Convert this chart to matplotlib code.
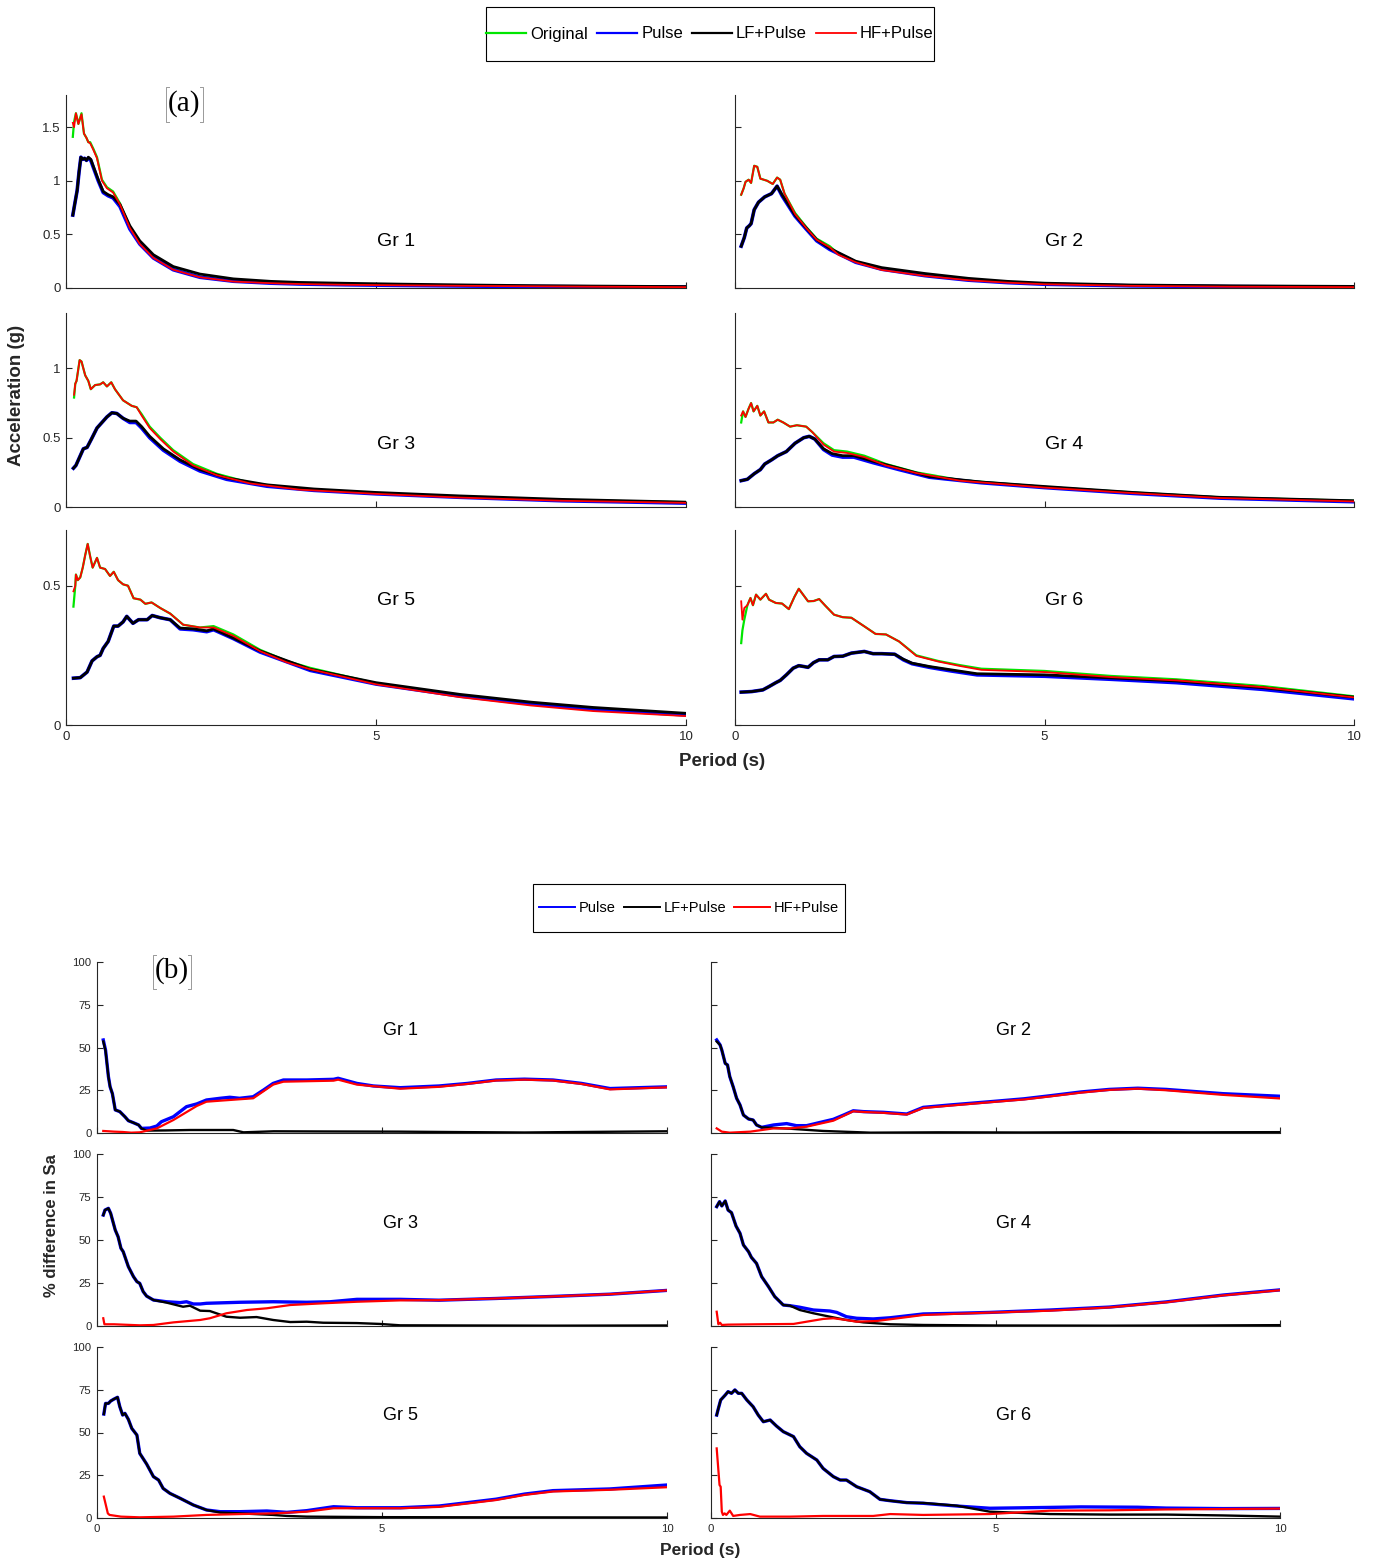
import matplotlib
matplotlib.use("Agg")
import matplotlib.pyplot as plt
from matplotlib.lines import Line2D
from matplotlib.patches import Rectangle

plt.rcParams["font.family"] = ["Liberation Sans", "DejaVu Sans"]

# ---------------- (a) spectral acceleration, period vs Sa (g) ----------------
# Gr 1
tA1 = [0.11, 0.13, 0.16, 0.2, 0.25, 0.29, 0.33, 0.36, 0.39, 0.44, 0.5, 0.58, 0.66, 0.76, 0.87, 1.03, 1.19, 1.41, 1.73, 2.16, 2.7, 3.3, 3.77, 4.5, 5.4, 6.5, 7.5, 8.5, 10.0]
orig1 = [1.41, 1.55, 1.63, 1.53, 1.63, 1.44, 1.40, 1.36, 1.36, 1.30, 1.22, 1.01, 0.94, 0.90, 0.79, 0.57, 0.42, 0.29, 0.18, 0.105, 0.065, 0.048, 0.04, 0.034, 0.028, 0.022, 0.018, 0.015, 0.012]
hf1 = [1.54, 1.50, 1.63, 1.53, 1.62, 1.44, 1.40, 1.36, 1.35, 1.29, 1.21, 1.00, 0.93, 0.89, 0.78, 0.56, 0.41, 0.28, 0.17, 0.10, 0.06, 0.045, 0.037, 0.03, 0.025, 0.02, 0.016, 0.012, 0.008]
tB1 = [0.11, 0.14, 0.18, 0.21, 0.24, 0.27, 0.30, 0.33, 0.36, 0.40, 0.45, 0.52, 0.60, 0.68, 0.76, 0.87, 1.03, 1.19, 1.41, 1.73, 2.16, 2.7, 3.3, 3.77, 4.5, 5.4, 6.5, 7.5, 8.5, 10.0]
lf1 = [0.68, 0.78, 0.91, 1.08, 1.22, 1.20, 1.21, 1.19, 1.22, 1.20, 1.12, 1.01, 0.90, 0.87, 0.85, 0.78, 0.58, 0.44, 0.31, 0.20, 0.13, 0.085, 0.062, 0.052, 0.044, 0.036, 0.028, 0.022, 0.018, 0.013]
pulse1 = [0.68, 0.78, 0.91, 1.08, 1.22, 1.20, 1.21, 1.19, 1.21, 1.19, 1.11, 1.00, 0.89, 0.86, 0.84, 0.76, 0.55, 0.41, 0.28, 0.17, 0.10, 0.063, 0.045, 0.037, 0.03, 0.024, 0.018, 0.014, 0.011, 0.008]

# Gr 2
tA2 = [0.10, 0.14, 0.17, 0.22, 0.26, 0.31, 0.36, 0.41, 0.52, 0.61, 0.68, 0.73, 0.80, 0.97, 1.15, 1.32, 1.53, 1.67, 1.95, 2.37, 3.07, 3.77, 4.4, 5.0, 6.4, 8.0, 10.0]
orig2 = [0.87, 0.93, 0.99, 1.01, 0.98, 1.14, 1.13, 1.02, 1.00, 0.97, 1.03, 1.01, 0.88, 0.70, 0.57, 0.46, 0.39, 0.32, 0.245, 0.174, 0.12, 0.078, 0.055, 0.04, 0.025, 0.018, 0.014]
hf2 = [0.87, 0.93, 0.99, 1.01, 0.98, 1.14, 1.13, 1.02, 1.00, 0.97, 1.03, 1.01, 0.88, 0.69, 0.56, 0.45, 0.38, 0.31, 0.24, 0.168, 0.113, 0.072, 0.05, 0.035, 0.02, 0.012, 0.008]
tB2 = [0.10, 0.15, 0.19, 0.23, 0.26, 0.31, 0.38, 0.48, 0.59, 0.68, 0.76, 0.97, 1.15, 1.32, 1.53, 1.95, 2.37, 3.07, 3.77, 4.4, 5.0, 6.4, 8.0, 10.0]
lf2 = [0.39, 0.47, 0.56, 0.58, 0.60, 0.73, 0.80, 0.85, 0.88, 0.95, 0.87, 0.68, 0.56, 0.45, 0.37, 0.25, 0.19, 0.135, 0.09, 0.062, 0.045, 0.028, 0.02, 0.015]
pulse2 = [0.39, 0.47, 0.56, 0.58, 0.60, 0.73, 0.80, 0.85, 0.88, 0.95, 0.86, 0.67, 0.55, 0.44, 0.36, 0.24, 0.175, 0.115, 0.073, 0.05, 0.035, 0.02, 0.013, 0.009]

# Gr 3
tA3 = [0.13, 0.15, 0.17, 0.22, 0.25, 0.31, 0.36, 0.40, 0.47, 0.55, 0.60, 0.66, 0.73, 0.79, 0.92, 1.06, 1.14, 1.22, 1.35, 1.52, 1.73, 2.05, 2.43, 2.97, 3.77, 5.0, 6.35, 8.0, 10.0]
orig3 = [0.79, 0.89, 0.91, 1.06, 1.05, 0.95, 0.91, 0.85, 0.88, 0.885, 0.90, 0.87, 0.90, 0.85, 0.77, 0.73, 0.72, 0.67, 0.58, 0.50, 0.41, 0.31, 0.24, 0.175, 0.13, 0.10, 0.072, 0.05, 0.035]
hf3 = [0.81, 0.89, 0.91, 1.06, 1.05, 0.95, 0.91, 0.85, 0.88, 0.885, 0.90, 0.87, 0.90, 0.85, 0.77, 0.73, 0.72, 0.66, 0.57, 0.49, 0.40, 0.30, 0.23, 0.17, 0.125, 0.095, 0.068, 0.045, 0.03]
tB3 = [0.12, 0.16, 0.20, 0.24, 0.28, 0.34, 0.41, 0.50, 0.58, 0.66, 0.74, 0.82, 0.92, 1.03, 1.13, 1.22, 1.35, 1.57, 1.84, 2.16, 2.59, 3.24, 4.0, 5.0, 6.35, 8.0, 10.0]
lf3 = [0.28, 0.30, 0.34, 0.38, 0.42, 0.43, 0.49, 0.57, 0.61, 0.65, 0.68, 0.675, 0.64, 0.62, 0.62, 0.58, 0.51, 0.42, 0.34, 0.27, 0.21, 0.16, 0.13, 0.105, 0.08, 0.055, 0.035]
pulse3 = [0.28, 0.30, 0.34, 0.38, 0.42, 0.43, 0.49, 0.57, 0.61, 0.65, 0.68, 0.675, 0.64, 0.61, 0.61, 0.57, 0.50, 0.41, 0.33, 0.26, 0.20, 0.15, 0.12, 0.095, 0.07, 0.045, 0.028]

# Gr 4
tA4 = [0.10, 0.13, 0.17, 0.22, 0.26, 0.30, 0.36, 0.41, 0.47, 0.54, 0.62, 0.69, 0.78, 0.89, 1.0, 1.15, 1.25, 1.43, 1.6, 1.81, 2.09, 2.44, 2.93, 3.63, 5.0, 6.43, 7.83, 10.0]
orig4 = [0.61, 0.69, 0.65, 0.71, 0.75, 0.69, 0.73, 0.66, 0.69, 0.61, 0.61, 0.63, 0.61, 0.58, 0.59, 0.58, 0.54, 0.46, 0.41, 0.40, 0.37, 0.31, 0.25, 0.195, 0.145, 0.105, 0.07, 0.045]
hf4 = [0.66, 0.69, 0.65, 0.71, 0.75, 0.69, 0.73, 0.66, 0.69, 0.61, 0.61, 0.63, 0.61, 0.58, 0.59, 0.58, 0.54, 0.45, 0.40, 0.39, 0.36, 0.30, 0.245, 0.19, 0.14, 0.10, 0.065, 0.04]
tB4 = [0.10, 0.2, 0.31, 0.41, 0.48, 0.59, 0.69, 0.83, 0.97, 1.11, 1.2, 1.29, 1.43, 1.57, 1.74, 1.92, 2.23, 2.65, 3.14, 3.98, 5.0, 6.43, 7.83, 10.0]
lf4 = [0.19, 0.20, 0.24, 0.27, 0.31, 0.34, 0.37, 0.40, 0.46, 0.50, 0.51, 0.49, 0.42, 0.385, 0.37, 0.37, 0.33, 0.28, 0.22, 0.18, 0.148, 0.105, 0.07, 0.045]
pulse4 = [0.19, 0.20, 0.24, 0.27, 0.31, 0.34, 0.37, 0.40, 0.46, 0.50, 0.51, 0.49, 0.415, 0.375, 0.36, 0.36, 0.32, 0.27, 0.215, 0.175, 0.14, 0.098, 0.064, 0.038]

# Gr 5
tA5 = [0.12, 0.15, 0.16, 0.19, 0.23, 0.27, 0.31, 0.35, 0.39, 0.43, 0.5, 0.55, 0.63, 0.71, 0.77, 0.84, 0.92, 1.0, 1.09, 1.2, 1.28, 1.38, 1.52, 1.68, 1.89, 2.16, 2.38, 2.7, 3.13, 3.56, 3.94, 5.0, 6.35, 7.5, 8.5, 10.0]
orig5 = [0.425, 0.50, 0.54, 0.52, 0.53, 0.565, 0.61, 0.65, 0.605, 0.565, 0.60, 0.565, 0.56, 0.535, 0.55, 0.52, 0.505, 0.50, 0.455, 0.45, 0.435, 0.44, 0.42, 0.40, 0.36, 0.35, 0.355, 0.325, 0.27, 0.23, 0.205, 0.15, 0.105, 0.075, 0.055, 0.035]
hf5 = [0.48, 0.50, 0.54, 0.52, 0.53, 0.565, 0.61, 0.65, 0.605, 0.565, 0.60, 0.565, 0.56, 0.535, 0.55, 0.52, 0.505, 0.50, 0.455, 0.45, 0.435, 0.44, 0.42, 0.40, 0.36, 0.35, 0.35, 0.32, 0.265, 0.225, 0.20, 0.146, 0.10, 0.07, 0.05, 0.032]
tB5 = [0.12, 0.23, 0.34, 0.42, 0.5, 0.55, 0.6, 0.68, 0.77, 0.84, 0.92, 0.98, 1.08, 1.17, 1.31, 1.39, 1.52, 1.68, 1.84, 2.05, 2.27, 2.38, 2.7, 3.13, 3.94, 5.0, 6.35, 7.5, 8.5, 10.0]
lf5 = [0.168, 0.17, 0.19, 0.23, 0.245, 0.25, 0.275, 0.30, 0.355, 0.355, 0.37, 0.39, 0.365, 0.378, 0.378, 0.393, 0.385, 0.378, 0.348, 0.345, 0.338, 0.345, 0.312, 0.266, 0.20, 0.152, 0.11, 0.082, 0.063, 0.042]
pulse5 = [0.168, 0.17, 0.19, 0.23, 0.245, 0.25, 0.275, 0.30, 0.355, 0.355, 0.37, 0.39, 0.365, 0.378, 0.378, 0.393, 0.385, 0.378, 0.345, 0.342, 0.335, 0.342, 0.31, 0.262, 0.196, 0.147, 0.104, 0.076, 0.057, 0.036]

# Gr 6
tA6 = [0.10, 0.12, 0.15, 0.2, 0.25, 0.29, 0.34, 0.41, 0.5, 0.55, 0.66, 0.76, 0.87, 0.96, 1.03, 1.1, 1.18, 1.27, 1.36, 1.46, 1.6, 1.74, 1.88, 2.09, 2.27, 2.44, 2.65, 2.93, 3.28, 3.63, 3.98, 5.0, 6.08, 7.13, 8.52, 10.0]
orig6 = [0.294, 0.34, 0.378, 0.43, 0.456, 0.43, 0.468, 0.45, 0.471, 0.45, 0.438, 0.436, 0.416, 0.46, 0.489, 0.468, 0.444, 0.445, 0.452, 0.428, 0.396, 0.387, 0.385, 0.354, 0.327, 0.325, 0.30, 0.25, 0.23, 0.215, 0.202, 0.194, 0.176, 0.164, 0.14, 0.103]
hf6 = [0.444, 0.378, 0.42, 0.43, 0.456, 0.43, 0.468, 0.45, 0.471, 0.45, 0.438, 0.436, 0.416, 0.46, 0.489, 0.468, 0.444, 0.445, 0.452, 0.428, 0.396, 0.387, 0.385, 0.354, 0.327, 0.325, 0.30, 0.248, 0.228, 0.212, 0.198, 0.19, 0.172, 0.16, 0.136, 0.099]
tB6 = [0.1, 0.27, 0.45, 0.55, 0.66, 0.73, 0.83, 0.94, 1.03, 1.11, 1.18, 1.27, 1.36, 1.5, 1.6, 1.74, 1.88, 2.09, 2.23, 2.37, 2.58, 2.72, 2.86, 3.14, 3.49, 3.91, 5.0, 6.08, 7.13, 8.52, 10.0]
lf6 = [0.118, 0.12, 0.126, 0.138, 0.152, 0.16, 0.18, 0.204, 0.213, 0.21, 0.207, 0.224, 0.234, 0.234, 0.246, 0.247, 0.258, 0.264, 0.256, 0.256, 0.254, 0.236, 0.222, 0.21, 0.198, 0.184, 0.18, 0.169, 0.158, 0.134, 0.1]
pulse6 = [0.118, 0.12, 0.126, 0.138, 0.152, 0.16, 0.18, 0.204, 0.213, 0.21, 0.207, 0.224, 0.234, 0.234, 0.246, 0.247, 0.258, 0.264, 0.256, 0.256, 0.254, 0.234, 0.22, 0.207, 0.194, 0.18, 0.175, 0.164, 0.152, 0.128, 0.094]

# ---------------- (b) % difference in Sa relative to the original ----------------
# Gr 1
tP1 = [0.11, 0.15, 0.2, 0.23, 0.27, 0.32, 0.4, 0.49, 0.55, 0.64, 0.73, 0.78, 0.93, 1.05, 1.13, 1.34, 1.57, 1.75, 1.92, 2.16, 2.33, 2.5, 2.74, 2.92, 3.09, 3.27, 3.68, 4.15, 4.23, 4.56, 4.85, 5.32, 6.0, 6.5, 7.0, 7.5, 8.0, 8.5, 9.0, 10.0]
dp1 = [54.4, 48.5, 33, 27, 23, 13.5, 12.5, 9.5, 7.2, 6.0, 4.7, 2.7, 2.9, 4.1, 6.6, 9.5, 15.4, 17, 19.3, 20.3, 20.9, 20.3, 21.2, 25.1, 29, 31, 31, 31.4, 32, 29, 27.5, 26.5, 27.5, 29, 31, 31.5, 31, 29, 26, 27]
tL1 = [0.11, 0.15, 0.2, 0.23, 0.27, 0.32, 0.4, 0.49, 0.55, 0.64, 0.73, 0.78, 0.87, 1.2, 1.63, 2.27, 2.39, 2.57, 3.1, 4.0, 5.3, 6.5, 7.5, 8.5, 10.0]
dl1 = [53.5, 48, 33, 27, 23, 13.5, 12.5, 9.5, 7.2, 6.0, 4.7, 2.7, 1.4, 1.5, 1.75, 1.75, 1.75, 0.4, 1.0, 0.9, 0.8, 0.5, 0.3, 0.6, 1.0]
tH1 = [0.11, 0.3, 0.45, 0.6, 0.75, 1.05, 1.34, 1.75, 1.92, 2.16, 2.74, 3.09, 3.27, 4.15, 4.23, 4.56, 5.32, 6.0, 6.5, 7.0, 7.5, 8.0, 8.5, 9.0, 10.0]
dh1 = [1.2, 0.8, 0.6, 0.2, 0.4, 2.7, 7.6, 15.8, 18.3, 18.9, 20.3, 28.3, 30, 30.6, 31.2, 28.3, 25.9, 27, 28.7, 30.7, 31.2, 30.7, 28.7, 25.5, 26.7]

# Gr 2
tP2 = [0.1, 0.16, 0.19, 0.25, 0.29, 0.33, 0.39, 0.45, 0.51, 0.57, 0.66, 0.74, 0.8, 0.89, 1.1, 1.33, 1.5, 1.68, 1.97, 2.15, 2.33, 2.5, 2.68, 3.03, 3.44, 3.73, 4.2, 4.9, 5.5, 5.96, 6.5, 7.0, 7.5, 8.0, 9.0, 10.0]
dp2 = [54.4, 51.5, 48.5, 40.7, 39.8, 33, 27, 20.3, 16.4, 10.5, 8.2, 7.6, 4.7, 3.3, 4.7, 5.5, 4.3, 4.3, 6.6, 8.0, 10.5, 13, 12.5, 12.1, 11.1, 15, 16.4, 18.3, 20, 21.8, 24, 25.5, 26.2, 25.5, 23, 21.5]
tL2 = [0.1, 0.16, 0.19, 0.25, 0.29, 0.33, 0.39, 0.45, 0.51, 0.57, 0.66, 0.74, 0.8, 0.89, 1.39, 1.97, 2.8, 4.0, 5.5, 7.0, 8.5, 10.0]
dl2 = [53.5, 51.5, 48.5, 40.7, 39.8, 33, 27, 20.3, 16.4, 10.5, 8.2, 7.6, 4.7, 3.3, 2.5, 1.2, 0.2, 0.4, 0.3, 0.5, 0.4, 0.5]
tH2 = [0.1, 0.19, 0.33, 0.69, 1.1, 1.39, 1.68, 2.15, 2.5, 2.68, 3.03, 3.44, 3.73, 4.2, 4.9, 5.5, 5.96, 6.5, 7.0, 7.5, 8.0, 9.0, 10.0]
dh2 = [2.7, 0.8, 0.2, 0.8, 2.7, 2.7, 3.7, 7.2, 12.7, 12.3, 11.8, 10.8, 14.6, 16, 18, 19.6, 21.4, 23.6, 25.2, 25.9, 25, 22.3, 20.2]

# Gr 3
tP3 = [0.11, 0.14, 0.2, 0.24, 0.32, 0.37, 0.42, 0.46, 0.55, 0.64, 0.7, 0.75, 0.81, 0.87, 0.99, 1.22, 1.46, 1.57, 1.69, 1.81, 1.92, 2.51, 3.09, 3.68, 4.09, 4.56, 5.32, 6.0, 7.0, 8.0, 9.0, 10.0]
dp3 = [64.5, 67.4, 68.4, 65.5, 55.8, 51.9, 45.2, 43.2, 34.5, 28.7, 25.8, 24.8, 20, 17.4, 15.1, 14.1, 13.6, 14.1, 12.8, 12.8, 13.2, 13.8, 14.1, 13.8, 14.1, 15.5, 15.5, 15, 16, 17.2, 18.5, 20.7]
tL3 = [0.11, 0.14, 0.2, 0.24, 0.32, 0.37, 0.42, 0.46, 0.55, 0.64, 0.7, 0.75, 0.81, 0.87, 0.99, 1.22, 1.51, 1.63, 1.81, 1.98, 2.27, 2.51, 2.8, 3.09, 3.39, 3.68, 3.97, 4.56, 4.96, 5.32, 6.5, 8.0, 10.0]
dl3 = [64.5, 67.4, 68.4, 65.5, 55.8, 51.9, 45.2, 43.2, 34.5, 28.7, 25.8, 24.8, 20, 17.4, 15.1, 13.6, 11.2, 11.8, 8.9, 8.7, 5.4, 4.8, 5.2, 3.5, 2.3, 2.5, 1.9, 1.7, 1.2, 0.4, 0.3, 0.2, 0.3]
tH3 = [0.11, 0.13, 0.3, 0.75, 0.99, 1.34, 1.81, 1.98, 2.27, 2.63, 2.98, 3.39, 3.97, 4.56, 5.32, 6.0, 7.0, 8.0, 9.0, 10.0]
dh3 = [4.5, 1.0, 1.0, 0.4, 0.6, 2.1, 3.5, 4.5, 7.4, 9.3, 10.3, 12.2, 13.2, 14.1, 14.9, 15, 16, 17.2, 18.5, 20.7]

# Gr 4
tP4 = [0.1, 0.15, 0.19, 0.25, 0.3, 0.36, 0.44, 0.51, 0.57, 0.66, 0.71, 0.8, 0.89, 1.01, 1.12, 1.27, 1.39, 1.56, 1.8, 2.09, 2.21, 2.38, 2.56, 2.85, 3.15, 3.73, 4.32, 4.9, 5.96, 7.0, 8.0, 9.0, 10.0]
dp4 = [69.4, 72.3, 69.8, 72.7, 67.4, 65.9, 58.1, 53.9, 47.1, 43.2, 39.9, 36.4, 28.7, 22.9, 17.1, 12.2, 11.8, 10.9, 9.3, 8.7, 7.9, 5.4, 4.5, 4.1, 4.8, 7, 7.4, 7.9, 9.3, 11, 14, 18, 21]
tL4 = [0.1, 0.15, 0.19, 0.25, 0.3, 0.36, 0.44, 0.51, 0.57, 0.66, 0.71, 0.8, 0.89, 1.01, 1.12, 1.27, 1.39, 1.56, 1.8, 2.09, 2.38, 2.68, 3.15, 3.73, 5.0, 7.0, 8.5, 10.0]
dl4 = [69.4, 72.3, 69.8, 72.7, 67.4, 65.9, 58.1, 53.9, 47.1, 43.2, 39.9, 36.4, 28.7, 22.9, 17.1, 12.2, 11.8, 9.3, 7.4, 5.4, 3.5, 2.1, 1.0, 0.6, 0.3, 0.2, 0.3, 0.5]
tH4 = [0.1, 0.13, 0.16, 0.19, 0.3, 0.8, 1.45, 1.68, 1.97, 2.15, 2.38, 2.56, 2.91, 3.73, 4.9, 5.96, 7.0, 8.0, 9.0, 10.0]
dh4 = [8.3, 1.0, 1.9, 0.6, 0.8, 1.0, 1.2, 2.5, 4.1, 4.5, 3.5, 2.5, 2.9, 6.4, 7.8, 8.9, 10.8, 13.8, 17.8, 20.8]

# Gr 5
tP5 = [0.12, 0.15, 0.2, 0.24, 0.29, 0.36, 0.4, 0.45, 0.49, 0.55, 0.61, 0.7, 0.75, 0.87, 0.99, 1.08, 1.16, 1.28, 1.46, 1.69, 1.92, 2.16, 2.51, 2.98, 3.33, 3.68, 4.15, 4.56, 5.32, 6.0, 6.5, 7.0, 7.5, 8.0, 9.0, 10.0]
dp5 = [60.8, 67, 67, 68.4, 69.4, 70.6, 65.1, 60.2, 61.2, 57.7, 52.4, 48.5, 37.8, 31.6, 24.2, 22.2, 17.3, 14.4, 11.5, 7.6, 4.7, 3.7, 3.7, 4.1, 3.3, 4.3, 6.6, 6, 6, 7, 9, 11, 14, 16, 17, 19.3]
tL5 = [0.12, 0.15, 0.2, 0.24, 0.29, 0.36, 0.4, 0.45, 0.49, 0.55, 0.61, 0.7, 0.75, 0.87, 0.99, 1.08, 1.16, 1.28, 1.46, 1.69, 1.92, 2.16, 2.51, 3.09, 3.33, 3.68, 5.0, 7.0, 10.0]
dl5 = [60.8, 67, 67, 68.4, 69.4, 70.6, 65.1, 60.2, 61.2, 57.7, 52.4, 48.5, 37.8, 31.6, 24.2, 22.2, 17.3, 14.4, 11.5, 7.6, 4.7, 3.2, 2.7, 1.8, 1.2, 0.8, 0.5, 0.4, 0.3]
tH5 = [0.12, 0.19, 0.22, 0.42, 0.75, 1.34, 1.92, 2.51, 3.09, 3.68, 4.15, 5.32, 6.0, 6.5, 7.0, 7.5, 8.0, 9.0, 10.0]
dh5 = [12.5, 2.7, 1.8, 0.8, 0.4, 0.8, 1.8, 2.3, 2.7, 3.7, 5.7, 5.7, 6.5, 8.5, 10.5, 13.5, 15.5, 16.5, 18]

# Gr 6
tP6 = [0.1, 0.13, 0.17, 0.25, 0.3, 0.36, 0.42, 0.48, 0.54, 0.63, 0.74, 0.83, 0.92, 1.04, 1.15, 1.27, 1.45, 1.56, 1.68, 1.86, 1.97, 2.15, 2.27, 2.38, 2.56, 2.79, 2.97, 3.15, 3.44, 3.73, 4.32, 4.9, 5.96, 6.5, 7.5, 8.0, 9.0, 10.0]
dp6 = [60.2, 64.1, 69, 71.9, 73.9, 72.9, 74.9, 72.9, 72.9, 69, 65.1, 60.2, 56.3, 57.3, 53.8, 50.5, 47.6, 41.7, 37.8, 33.9, 29, 24.2, 22.2, 22.2, 18.3, 15.4, 10.9, 10.1, 9.0, 8.6, 7.0, 5.7, 6.2, 6.5, 6.3, 5.8, 5.5, 5.6]
tL6 = [0.1, 0.13, 0.17, 0.25, 0.3, 0.36, 0.42, 0.48, 0.54, 0.63, 0.74, 0.83, 0.92, 1.04, 1.15, 1.27, 1.45, 1.56, 1.68, 1.86, 1.97, 2.15, 2.27, 2.38, 2.56, 2.79, 2.97, 3.15, 3.44, 3.73, 4.32, 4.9, 5.96, 7.0, 8.0, 9.0, 10.0]
dl6 = [60.2, 64.1, 69, 71.9, 73.9, 72.9, 74.9, 72.9, 72.9, 69, 65.1, 60.2, 56.3, 57.3, 53.8, 50.5, 47.6, 41.7, 37.8, 33.9, 29, 24.2, 22.2, 22.2, 18.3, 15.4, 10.9, 10.1, 9.0, 8.8, 7.2, 3.7, 2.3, 2.0, 2.0, 1.5, 0.8]
tH6 = [0.1, 0.15, 0.17, 0.19, 0.21, 0.24, 0.27, 0.33, 0.39, 0.51, 0.69, 0.86, 1.39, 1.97, 2.85, 3.15, 3.73, 4.9, 5.96, 7.0, 8.0, 10.0]
dh6 = [40.7, 19.3, 18.3, 3.7, 1.8, 2.7, 1.8, 4.3, 1.2, 1.8, 2.3, 0.8, 0.8, 1.2, 1.2, 2.3, 1.8, 2.3, 4.3, 4.5, 5.0, 5.5]

specA = [
    (tA1, orig1, hf1, tB1, pulse1, lf1),
    (tA2, orig2, hf2, tB2, pulse2, lf2),
    (tA3, orig3, hf3, tB3, pulse3, lf3),
    (tA4, orig4, hf4, tB4, pulse4, lf4),
    (tA5, orig5, hf5, tB5, pulse5, lf5),
    (tA6, orig6, hf6, tB6, pulse6, lf6),
]
diffB = [
    (tP1, dp1, tL1, dl1, tH1, dh1),
    (tP2, dp2, tL2, dl2, tH2, dh2),
    (tP3, dp3, tL3, dl3, tH3, dh3),
    (tP4, dp4, tL4, dl4, tH4, dh4),
    (tP5, dp5, tL5, dl5, tH5, dh5),
    (tP6, dp6, tL6, dl6, tH6, dh6),
]
groups = ["Gr 1", "Gr 2", "Gr 3", "Gr 4", "Gr 5", "Gr 6"]
ylimA = [1.8, 1.4, 0.7]
yticksA = [[0, 0.5, 1, 1.5], [0, 0.5, 1], [0, 0.5]]
yticklabA = [["0", "0.5", "1", "1.5"], ["0", "0.5", "1"], ["0", "0.5"]]

GREEN = "#00e600"
BLUE = "#0000ff"
RED = "#ff0000"
AXC = "#262626"

W, H = 1379, 1562
fig = plt.figure(figsize=(W / 100, H / 100), dpi=100)


def frac(x0, y0, x1, y1):
    # pixel box (left, top, right, bottom) -> figure fraction rect
    return [x0 / W, 1 - y1 / H, (x1 - x0) / W, (y1 - y0) / H]


def style(ax, fs):
    for s in ["top", "right"]:
        ax.spines[s].set_visible(False)
    for s in ["left", "bottom"]:
        ax.spines[s].set_color(AXC)
        ax.spines[s].set_linewidth(0.8)
    ax.tick_params(direction="in", length=4, width=0.8, colors=AXC,
                   labelsize=fs, pad=4)
    ax.set_xlim(0, 10)
    ax.set_xticks([0, 5, 10])
    ax.patch.set_alpha(0)


# ---- (a) panels ----
colsA = [(66, 686), (735, 1354)]
rowsA = [(95, 288), (313, 507), (530, 725)]
gy_a = [0.243, 0.32, 0.636]
for i, (tA, orig, hf, tB, pulse, lf) in enumerate(specA):
    r, c = divmod(i, 2)
    ax = fig.add_axes(frac(colsA[c][0], rowsA[r][0], colsA[c][1], rowsA[r][1]))
    style(ax, 9.5)
    ax.plot(tA, orig, color=GREEN, lw=1.6, zorder=2)
    ax.plot(tB, pulse, color=BLUE, lw=2.6, zorder=3)
    ax.plot(tB, lf, color="black", lw=2.0, zorder=4)
    ax.plot(tA, hf, color=RED, lw=1.3, zorder=5)
    ax.set_ylim(0, ylimA[r])
    ax.set_yticks(yticksA[r])
    if c == 0:
        ax.set_yticklabels(yticklabA[r])
    else:
        ax.set_yticklabels([])
    if r < 2:
        ax.set_xticklabels([])
    ax.text(0.532, gy_a[r], groups[i], transform=ax.transAxes,
            fontsize=14, ha="center", va="center")

# ---- (b) panels ----
colsB = [(97, 667), (711, 1280)]
rowsB = [(962, 1133), (1154, 1326), (1347, 1518)]
for i, (tP, dp, tL, dl, tH, dh) in enumerate(diffB):
    r, c = divmod(i, 2)
    ax = fig.add_axes(frac(colsB[c][0], rowsB[r][0], colsB[c][1], rowsB[r][1]))
    style(ax, 8.2)
    ax.plot(tP, dp, color=BLUE, lw=2.4, zorder=3)
    ax.plot(tL, dl, color="black", lw=1.7, zorder=4)
    ax.plot(tH, dh, color=RED, lw=1.6, zorder=5)
    ax.set_ylim(0, 100)
    ax.set_yticks([0, 25, 50, 75, 100])
    if c == 1:
        ax.set_yticklabels([])
    if r < 2:
        ax.set_xticklabels([])
    ax.text(0.532, 0.597, groups[i], transform=ax.transAxes,
            fontsize=13, ha="center", va="center")

# ---- axis titles ----
fig.text(17 / W, 1 - 395 / H, "Acceleration (g)", rotation=90, fontsize=13.5,
         fontweight="bold", color=AXC, ha="center", va="center")
fig.text(722 / W, 1 - 762 / H, "Period (s)", fontsize=13.5, fontweight="bold",
         color=AXC, ha="center", va="center")
fig.text(52 / W, 1 - 1226 / H, "% difference in Sa", rotation=90, fontsize=12,
         fontweight="bold", color=AXC, ha="center", va="center")
fig.text(700 / W, 1 - 1550 / H, "Period (s)", fontsize=12.5, fontweight="bold",
         color=AXC, ha="center", va="center")


# ---- panel tags with thin brackets ----
def tag(label, cx, cy, x0, x1, y0, y1):
    fig.text(cx / W, 1 - cy / H, label, fontsize=21, family="Liberation Serif",
             ha="center", va="center")
    for xb, d in [(x0, 1), (x1, -1)]:
        fig.add_artist(Line2D([(xb + 3 * d) / W, xb / W, xb / W, (xb + 3 * d) / W],
                              [1 - y0 / H, 1 - y0 / H, 1 - y1 / H, 1 - y1 / H],
                              color="#999999", lw=0.7))


tag("(a)", 184, 104, 166, 203, 87, 122)
tag("(b)", 172, 971, 153, 191, 955, 989)


# ---- legends: entries without frame, box drawn separately ----
def legend_box(x0, y0, x1, y1):
    fig.add_artist(Rectangle((x0 / W, 1 - y1 / H), (x1 - x0) / W, (y1 - y0) / H,
                             transform=fig.transFigure, fill=False,
                             edgecolor="black", lw=0.8))


hA = [Line2D([], [], color=GREEN, lw=1.6), Line2D([], [], color=BLUE, lw=1.6),
      Line2D([], [], color="black", lw=1.6), Line2D([], [], color=RED, lw=1.3)]
fig.legend(hA, ["Original", "Pulse", "LF+Pulse", "HF+Pulse"], ncol=4,
           loc="center", bbox_to_anchor=(710 / W, 1 - 34 / H), fontsize=12,
           frameon=False, handlelength=2.4, handletextpad=0.24,
           columnspacing=0.55)
legend_box(486, 7, 934, 61)

hB = [Line2D([], [], color=BLUE, lw=1.4), Line2D([], [], color="black", lw=1.4),
      Line2D([], [], color=RED, lw=1.4)]
fig.legend(hB, ["Pulse", "LF+Pulse", "HF+Pulse"], ncol=3, loc="center",
           bbox_to_anchor=(689 / W, 1 - 908 / H), fontsize=10.5,
           frameon=False, handlelength=2.47, handletextpad=0.27,
           columnspacing=0.55)
legend_box(533, 884, 845, 932)

fig.savefig("out.png", dpi=100)
